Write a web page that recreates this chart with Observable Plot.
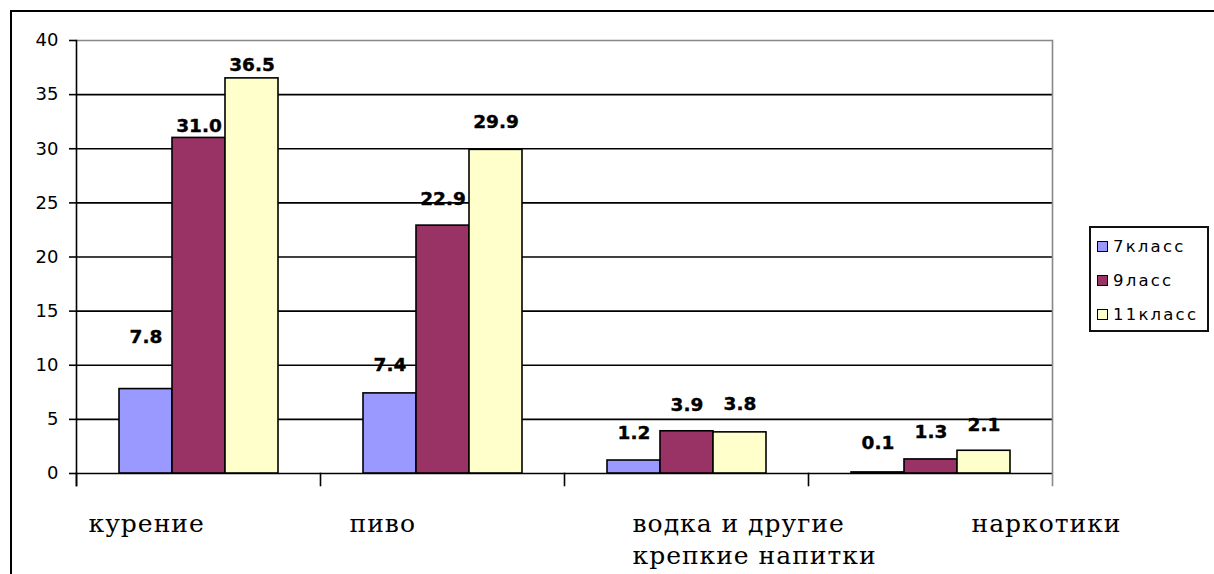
<!DOCTYPE html>
<html>
<head>
<meta charset="utf-8">
<script src="https://cdn.jsdelivr.net/npm/d3@7"></script>
<script src="https://cdn.jsdelivr.net/npm/@observablehq/plot@0.6"></script>
<style>
  html, body { margin: 0; padding: 0; background: #fff; overflow: hidden; }
  #wrap { position: relative; width: 1214px; height: 574px; overflow: hidden; }
  #outer { position: absolute; left: 10px; top: 10px; width: 1300px; height: 700px; border-top: 2px solid #000; border-left: 2px solid #000; box-sizing: border-box; }
  #chart { position: absolute; left: 0; top: 0; }
  #chart text.cat { letter-spacing: 1px; }
  #legend { position: absolute; left: 1089px; top: 226px; width: 120px; height: 106px; border: 2px solid #111; box-sizing: border-box; background: #fff;
    font-family: "DejaVu Sans", sans-serif; font-size: 16.5px; letter-spacing: 2.2px; color: #000; }
  .item { position: absolute; left: 6px; height: 20px; line-height: 20px; white-space: nowrap; }
  .sw { display: inline-block; width: 9px; height: 9px; border: 1.5px solid #000; vertical-align: middle; margin-right: 5px; position: relative; top: -1px; }
</style>
</head>
<body>
<div id="wrap">
  <div id="outer"></div>
  <div id="chart"></div>
  <div id="legend"></div>
</div>
<script>
// ---- data ----
const categories = ["курение", "пиво", "водка и другие\nкрепкие напитки", "наркотики"];
const series = ["7класс", "9ласс", "11класс"];
const values7 = [7.8, 7.4, 1.2, 0.1];
const values9 = [31.0, 22.9, 3.9, 1.3];
const values11 = [36.5, 29.9, 3.8, 2.1];
const yTicks = [0, 5, 10, 15, 20, 25, 30, 35, 40];

// ---- styles / layout (not data) ----
const colors = ["#9999FF", "#993366", "#FFFFCC"];
const labelLift = [[-52, -28, -27, -29], [-12, -27, -26, -27], [-13, -28, -28, -26]];
const catLabelDx = [12, 29, 68, 163];

const allValues = [values7, values9, values11];
const rows = [];
series.forEach((s, si) => categories.forEach((c, ci) => {
  rows.push({cat: c, series: s, value: allValues[si][ci], lift: labelLift[si][ci]});
}));

const lifts = Array.from(new Set(rows.map(d => d.lift)));
const labelMarks = lifts.map(l => Plot.text(rows.filter(d => d.lift === l), {
  fx: "cat", x: "series", y: "value", text: d => d.value.toFixed(1),
  dy: l, fontWeight: "bold", fontSize: 18.5, fontFamily: "DejaVu Sans", fill: "#000", stroke: "#000", strokeWidth: 0.4
}));

const catMarks = categories.map((c, i) => Plot.text([c], {
  fx: d => d, text: d => d, frameAnchor: "bottom-left", textAnchor: "start", lineAnchor: "top",
  dx: catLabelDx[i], dy: 35, fontFamily: "DejaVu Serif", fontSize: 25, lineHeight: 1.3, fill: "#000"
}));

const plotH = 473 - 40;
const chart = Plot.plot({
  width: 1214,
  height: 574,
  marginLeft: 75,
  marginRight: 162,
  marginTop: 40,
  marginBottom: 101,
  style: {fontFamily: "DejaVu Sans", fontSize: "18px", background: "transparent", color: "#000", overflow: "visible"},
  fx: {domain: categories, padding: 0, axis: null},
  x: {domain: series, paddingInner: 0, paddingOuter: 0.77, axis: null},
  y: {domain: [0, 40], axis: null},
  color: {domain: series, range: colors},
  marks: [
    Plot.ruleY(yTicks.filter(t => t < 40), {stroke: "#000", strokeWidth: 1.6}),
    Plot.ruleY(yTicks.filter(t => t === 40), {stroke: "#888", strokeWidth: 1.6}),
    Plot.barY(rows, {fx: "cat", x: "series", y: "value", fill: "series", stroke: "#000", strokeWidth: 1.6}),
    Plot.frame({anchor: "left", insetTop: plotH, insetBottom: -12, stroke: "#000", strokeWidth: 1.6}),
    Plot.frame({anchor: "left", facetAnchor: "left", insetBottom: -12, stroke: "#000", strokeWidth: 1.6}),
    Plot.frame({anchor: "right", facetAnchor: "right", insetBottom: -12, stroke: "#888", strokeWidth: 1.6}),
    Plot.axisY({ticks: yTicks, tickSize: 7, tickPadding: 11, fontSize: 18, fontFamily: "DejaVu Sans", label: null, stroke: "#000", strokeWidth: 1.6, fill: "#000"}),
    ...labelMarks,
    ...catMarks
  ]
});
d3.select(chart).selectAll("g[font-family='DejaVu Serif'] text").classed("cat", true);
document.getElementById("chart").appendChild(chart);

const legend = document.getElementById("legend");
series.forEach((s, i) => {
  const it = document.createElement("div");
  it.className = "item";
  it.style.top = (9 + i * 34) + "px";
  const sw = document.createElement("span");
  sw.className = "sw";
  sw.style.background = colors[i];
  it.appendChild(sw);
  it.appendChild(document.createTextNode(s));
  legend.appendChild(it);
});
</script>
</body>
</html>
